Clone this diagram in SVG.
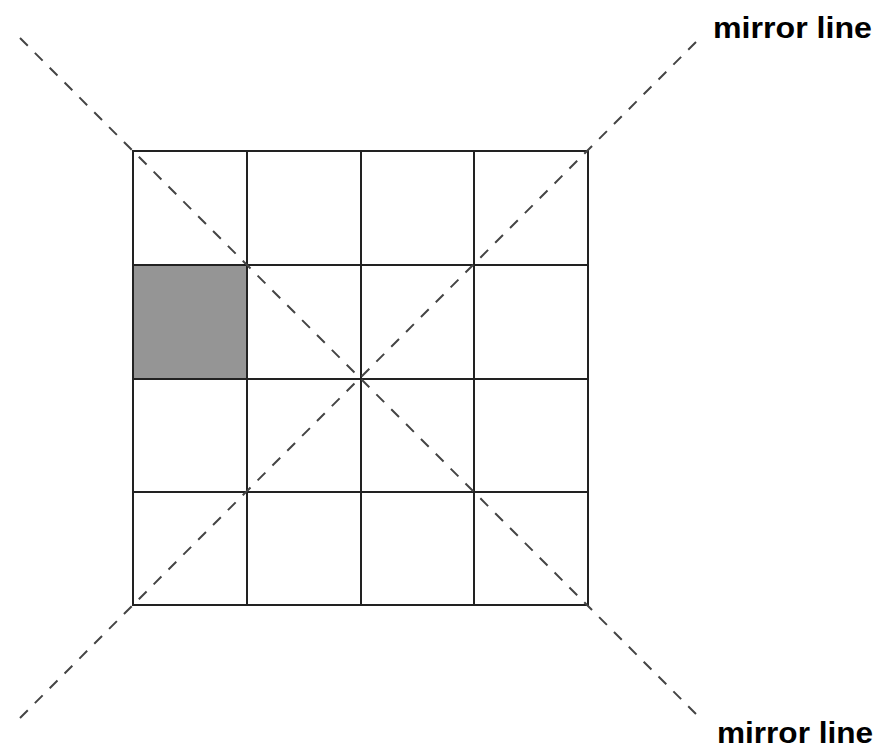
<svg xmlns="http://www.w3.org/2000/svg" width="881" height="751" viewBox="0 0 881 751">
<style>
.grid{fill:none;stroke:#222;stroke-width:2}
.mirror{stroke:#444;stroke-width:2;stroke-dasharray:11 10;fill:none}
.lbl{font-family:"Liberation Sans",Arial,sans-serif;font-weight:bold;font-size:30px;fill:#000}
</style>
<rect width="881" height="751" fill="#fff"/>
<g id="shaded-cell"><rect x="133" y="265" width="114" height="114" fill="#959595"/></g>
<g id="grid">
<rect class="grid" x="133" y="151" width="455" height="454"/>
<line class="grid" x1="247" y1="151" x2="247" y2="605"/>
<line class="grid" x1="361" y1="151" x2="361" y2="605"/>
<line class="grid" x1="474" y1="151" x2="474" y2="605"/>
<line class="grid" x1="133" y1="265" x2="588" y2="265"/>
<line class="grid" x1="133" y1="379" x2="588" y2="379"/>
<line class="grid" x1="133" y1="492" x2="588" y2="492"/>
</g>
<g id="connectors">
<line class="mirror" x1="20" y1="38" x2="700" y2="718"/>
<line class="mirror" x1="20" y1="718" x2="700" y2="38"/>
</g>
<g id="label-top"><text class="lbl" x="713" y="38" textLength="159" lengthAdjust="spacingAndGlyphs">mirror line</text></g>
<g id="label-bottom"><text class="lbl" x="717" y="743" textLength="156" lengthAdjust="spacingAndGlyphs">mirror line</text></g>
</svg>
